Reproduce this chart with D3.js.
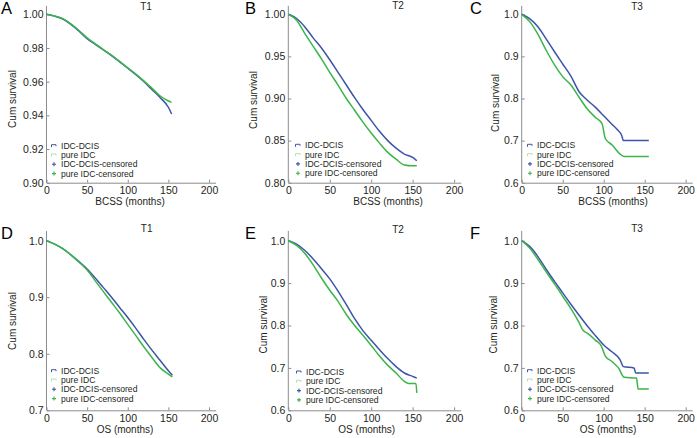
<!DOCTYPE html>
<html><head><meta charset="utf-8">
<script src="https://cdn.jsdelivr.net/npm/d3@7"></script>
<style>
body{margin:0;background:#fff}
svg{display:block;font-family:"Liberation Sans",Arial,Helvetica,sans-serif}
</style></head><body>
<svg id="c" width="697" height="438"></svg>
<script>
// ---------- data (months, cumulative survival) ----------
const xTicks = [0, 50, 100, 150, 200];
const legendLabels = ["IDC-DCIS", "pure IDC", "IDC-DCIS-censored", "pure IDC-censored"];

// A: BCSS, T1
const aTime = [0,10,20,30,40,50,60,70,80,90,100,110,120,130,140,150,154];
const aDcis = [1.000,0.9989,0.9972,0.9940,0.9900,0.9855,0.9822,0.9788,0.9755,0.9718,0.9680,0.9642,0.9600,0.9552,0.9505,0.9448,0.9408];
const aPure = [1.000,0.9990,0.9974,0.9943,0.9904,0.9860,0.9825,0.9790,0.9757,0.9720,0.9682,0.9645,0.9603,0.9560,0.9515,0.9485,0.9477];
const aTicks = [0.90,0.92,0.94,0.96,0.98,1.00];

// B: BCSS, T2
const bTime = [0,10,20,30,40,50,60,70,80,90,100,110,120,130,140,150,155];
const bDcis = [1.000,0.995,0.985,0.972,0.960,0.946,0.931,0.916,0.901,0.887,0.874,0.861,0.850,0.841,0.834,0.830,0.826];
const bPure = [1.000,0.993,0.977,0.962,0.947,0.931,0.916,0.900,0.886,0.872,0.859,0.847,0.836,0.828,0.821,0.820,0.820];
const bTicks = [0.80,0.85,0.90,0.95,1.00];

// C: BCSS, T3
const cDcisTime = [0,10,20,30,40,50,60,70,80,90,100,110,117,122,124,155];
const cDcis = [1.000,0.989,0.970,0.941,0.911,0.882,0.853,0.816,0.796,0.779,0.759,0.739,0.725,0.712,0.700,0.700];
const cPureTime = [0,10,20,30,40,50,60,70,80,90,98,102,110,120,125,155];
const cPure = [1.000,0.982,0.952,0.914,0.880,0.852,0.832,0.803,0.775,0.755,0.740,0.705,0.690,0.668,0.662,0.662];
const cTicks = [0.6,0.7,0.8,0.9,1.0];

// D: OS, T1
const dTime = [0,10,20,30,40,50,60,70,80,90,100,110,120,130,140,150,155];
const dDcis = [1.000,0.994,0.986,0.975,0.963,0.950,0.934,0.917,0.900,0.882,0.864,0.845,0.825,0.806,0.788,0.770,0.762];
const dPure = [1.000,0.994,0.986,0.975,0.962,0.948,0.929,0.910,0.891,0.872,0.852,0.832,0.812,0.793,0.775,0.764,0.759];
const dTicks = [0.7,0.8,0.9,1.0];

// E: OS, T2
const eDcisTime = [0,10,20,30,40,50,60,70,80,90,100,110,120,130,140,150,155];
const eDcis = [1.000,0.992,0.977,0.957,0.934,0.910,0.881,0.849,0.816,0.788,0.765,0.743,0.722,0.703,0.688,0.680,0.676];
const ePureTime = [0,10,20,30,40,50,60,70,80,90,100,110,120,130,140,145,154,155];
const ePure = [1.000,0.989,0.970,0.943,0.912,0.883,0.857,0.826,0.800,0.777,0.753,0.728,0.706,0.688,0.668,0.663,0.663,0.641];
const eTicks = [0.6,0.7,0.8,0.9,1.0];

// F: OS, T3
const fDcisTime = [0,10,20,30,40,50,60,70,80,90,100,110,120,124,137,139,155];
const fDcis = [1.000,0.986,0.962,0.932,0.904,0.877,0.850,0.824,0.799,0.776,0.754,0.738,0.719,0.703,0.700,0.688,0.688];
const fPureTime = [0,10,20,30,40,50,60,70,75,80,90,97,102,110,118,125,140,142,155];
const fPure = [1.000,0.982,0.955,0.926,0.898,0.869,0.840,0.807,0.788,0.782,0.765,0.752,0.728,0.715,0.700,0.678,0.676,0.650,0.650];
const fTicks = [0.6,0.7,0.8,0.9,1.0];

// ---------- styling / layout ----------
const BLUE = "#3d55a8", GREEN = "#3bb54a", PALE = "#b4dfb4", AXIS = "#8c8c8c", TXT = "#231f20";

const panels = [
  {letter:"A", title:"T1", xlab:"BCSS (months)", tdcis:aTime, dcis:aDcis, tpure:aTime, pure:aPure, ticks:aTicks, fmt:".2f", ymin:0.90, ytopExtra:0.005,
   x0:46.5, k:0.8125, yOne:14.3, yBot:182.7, L:[1,13.5], T:[146,9.5], XL:[130,205], YL:[12,99], LG:[61,145.7]},
  {letter:"B", title:"T2", xlab:"BCSS (months)", tdcis:bTime, dcis:bDcis, tpure:bTime, pure:bPure, ticks:bTicks, fmt:".2f", ymin:0.80, ytopExtra:0.01,
   x0:288.3, k:0.829, yOne:14.3, yBot:182.7, L:[245,13.5], T:[398,9], XL:[388,205], YL:[253,100], LG:[305,145.3]},
  {letter:"C", title:"T3", xlab:"BCSS (months)", tdcis:cDcisTime, dcis:cDcis, tpure:cPureTime, pure:cPure, ticks:cTicks, fmt:".1f", ymin:0.6, ytopExtra:0.02,
   x0:521.7, k:0.82, yOne:14.3, yBot:182.7, L:[470,13.5], T:[637,9.5], XL:[613,205], YL:[495,103], LG:[537,145.3]},
  {letter:"D", title:"T1", xlab:"OS (months)", tdcis:dTime, dcis:dDcis, tpure:dTime, pure:dPure, ticks:dTicks, fmt:".1f", ymin:0.7, ytopExtra:0.017,
   x0:46.5, k:0.8125, yOne:240.7, yBot:410.3, L:[1,238.5], T:[146.7,231.5], XL:[125,432.5], YL:[12,321], LG:[61,370.7]},
  {letter:"E", title:"T2", xlab:"OS (months)", tdcis:eDcisTime, dcis:eDcis, tpure:ePureTime, pure:ePure, ticks:eTicks, fmt:".1f", ymin:0.6, ytopExtra:0.023,
   x0:288.3, k:0.829, yOne:240.7, yBot:410.3, L:[245,238.5], T:[398,232.5], XL:[366.7,432.5], YL:[263,324.7], LG:[306,372]},
  {letter:"F", title:"T3", xlab:"OS (months)", tdcis:fDcisTime, dcis:fDcis, tpure:fPureTime, pure:fPure, ticks:fTicks, fmt:".1f", ymin:0.6, ytopExtra:0.023,
   x0:521.7, k:0.82, yOne:240.7, yBot:410.3, L:[470,238.5], T:[637,231.5], XL:[608,432.5], YL:[493,324.7], LG:[537,370.7]}
];

const svg = d3.select("#c");

panels.forEach(p => {
  const g = svg.append("g");
  const xMaxAxis = 208;
  const x = d3.scaleLinear().domain([0, xMaxAxis]).range([p.x0, p.x0 + xMaxAxis * p.k]);
  const y = d3.scaleLinear().domain([p.ymin, 1.0]).range([p.yBot, p.yOne]);
  const yTopPx = y(1.0 + p.ytopExtra);

  // x axis
  const xa = g.append("g").attr("transform", `translate(0,${p.yBot})`)
    .call(d3.axisBottom(x).tickValues(xTicks).tickFormat(d3.format("d")).tickSizeInner(-3).tickSizeOuter(0).tickPadding(4));
  xa.select(".domain").attr("stroke", AXIS);
  xa.selectAll(".tick line").attr("stroke", AXIS);
  xa.selectAll("text").attr("fill", TXT).attr("font-size", 10.5).attr("font-family", null);

  // y axis
  const ya = g.append("g").attr("transform", `translate(${p.x0},0)`)
    .call(d3.axisLeft(y).tickValues(p.ticks).tickFormat(d3.format(p.fmt)).tickSizeInner(-3).tickSizeOuter(0).tickPadding(3));
  ya.select(".domain").remove();
  ya.selectAll(".tick line").attr("stroke", AXIS);
  ya.selectAll("text").attr("fill", TXT).attr("font-size", 10.5).attr("font-family", null);
  g.append("line").attr("x1", p.x0).attr("x2", p.x0).attr("y1", p.yBot).attr("y2", yTopPx).attr("stroke", AXIS);

  // curves
  const line = d3.line().x(d => x(d[0])).y(d => y(d[1])).curve(d3.curveMonotoneX);
  const dcisData = p.tdcis.map((t, i) => [t, p.dcis[i]]);
  const pureData = p.tpure.map((t, i) => [t, p.pure[i]]);
  g.append("path").datum(dcisData).attr("d", line).attr("fill", "none").attr("stroke", BLUE).attr("stroke-width", 1.5);
  g.append("path").datum(pureData).attr("d", line).attr("fill", "none").attr("stroke", GREEN).attr("stroke-width", 1.5);

  // texts
  g.append("text").attr("x", p.L[0]).attr("y", p.L[1]).attr("font-size", 16.5).attr("fill", "#000").text(p.letter);
  g.append("text").attr("x", p.T[0]).attr("y", p.T[1]).attr("text-anchor", "middle").attr("font-size", 10).attr("fill", TXT).text(p.title);
  g.append("text").attr("x", p.XL[0]).attr("y", p.XL[1]).attr("text-anchor", "middle").attr("font-size", 10).attr("fill", TXT).text(p.xlab);
  g.append("text").attr("transform", `translate(${p.YL[0]},${p.YL[1]}) rotate(-90)`).attr("text-anchor", "middle")
    .attr("dominant-baseline", "central").attr("font-size", 10).attr("fill", TXT).text("Cum survival");

  // legend
  const lg = g.append("g");
  const rowH = 9.3;
  legendLabels.forEach((lab, i) => {
    const cy = p.LG[1] + i * rowH;
    const sx = p.LG[0] - 7;
    if (i < 2) {
      lg.append("path").attr("d", `M${sx-2.5},${cy+1.5}V${cy-1}H${sx+2}V${cy+0.5}`)
        .attr("fill", "none").attr("stroke", i === 0 ? BLUE : PALE).attr("stroke-width", 1);
    } else {
      const c = i === 2 ? BLUE : GREEN;
      lg.append("path").attr("d", `M${sx-2},${cy}H${sx+2}M${sx},${cy-2}V${cy+2}`)
        .attr("fill", "none").attr("stroke", c).attr("stroke-width", 1.1);
    }
    lg.append("text").attr("x", p.LG[0]).attr("y", cy).attr("dominant-baseline", "central")
      .attr("font-size", 8.6).attr("fill", TXT).text(lab);
  });
});
</script>
</body></html>
